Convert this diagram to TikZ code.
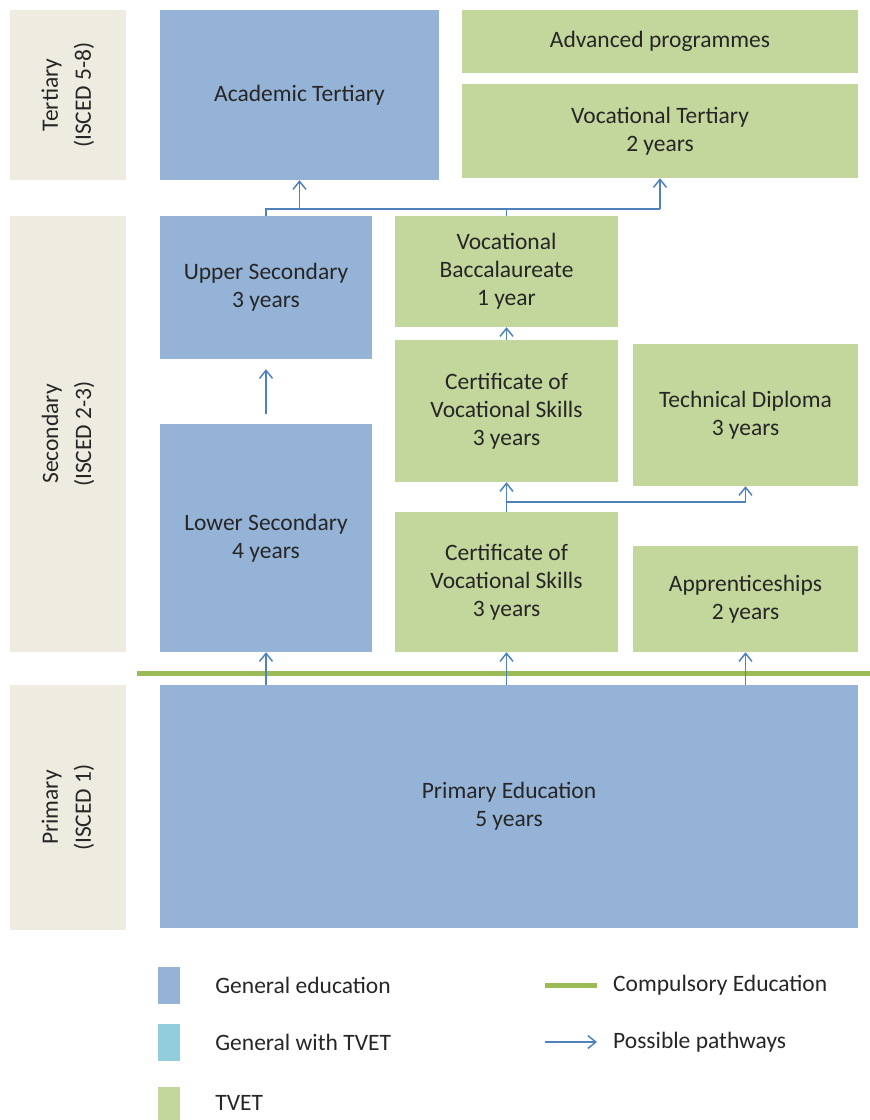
\documentclass[tikz,border=0pt]{standalone}
\usepackage{fontspec}
\setmainfont{Carlito}
\usepackage{tikz}
\usetikzlibrary{positioning}
\usetikzlibrary{arrows.meta, calc}
\definecolor{colGeneral}{HTML}{95B3D7}
\definecolor{colMixed}{HTML}{92CDDC}
\definecolor{colTvet}{HTML}{C3D69B}
\definecolor{colLevel}{HTML}{EEECE1}
\definecolor{strokeCompulsory}{HTML}{9BBB59}
\definecolor{strokePath}{HTML}{4F81BD}
\definecolor{colText}{HTML}{262626}

\begin{document}
\begin{tikzpicture}[
				x=1pt, y=-1pt,
				font=\fontsize{23.5}{28}\selectfont,
				% Node Styles
				base/.style={rectangle, align=center, inner sep=0pt, text=colText},
				general/.style={base, fill=colGeneral},
				tvet/.style={base, fill=colTvet},
				level/.style={base, fill=colLevel, minimum width=116pt},
				levellabel/.style={base, rotate=90, font=\fontsize{23.5}{33}\selectfont},
				key/.style={base, minimum width=22pt, minimum height=37pt},
				keytext/.style={base, anchor=west},
				pathway/.style={-{Straight Barb[length=8pt, width=13pt]}, line width=1.5pt, strokePath},
				link/.style={line width=1.5pt, strokePath},
				compulsory/.style={line width=5pt, strokeCompulsory}
				]
				\useasboundingbox (0,0) rectangle (870,1120);
				
				%% ================= LEVEL BANDS =================
				\node[level, minimum height=170pt] (tertiary) at (68,95) {};
				\node[levellabel] at (tertiary) {Tertiary\\(ISCED 5-8)};
				\node[level, minimum height=436pt] (secondary) at (68,434) {};
				\node[levellabel] at (secondary) {Secondary\\(ISCED 2-3)};
				\node[level, minimum height=245pt] (primarylevel) at (68,807.5) {};
				\node[levellabel] at (primarylevel) {Primary\\(ISCED 1)};
				
				%% ================= TERTIARY =================
				\node[general, minimum width=279pt, minimum height=170pt] (acad) at (299.5,95) {Academic Tertiary};
				\node[tvet, minimum width=396pt, minimum height=63pt] (advanced) at (660,41.5) {Advanced programmes};
				\node[tvet, minimum width=396pt, minimum height=94pt] (voctert) at (660,131) {Vocational Tertiary\\2 years};
				
				%% ================= SECONDARY =================
				\node[general, minimum width=212pt, minimum height=143pt] (upper) at (266,287.5) {Upper Secondary\\3 years};
				\node[tvet, minimum width=223pt, minimum height=111pt] (bacc) at (506.5,271.5) {Vocational\\Baccalaureate\\1 year};
				\node[tvet, minimum width=223pt, minimum height=142pt] (cvsupper) at (506.5,411) {Certificate of\\Vocational Skills\\3 years};
				\node[tvet, minimum width=225pt, minimum height=142pt] (techdip) at (745.5,415) {Technical Diploma\\3 years};
				\node[general, minimum width=212pt, minimum height=228pt] (lower) at (266,538) {Lower Secondary\\4 years};
				\node[tvet, minimum width=223pt, minimum height=140pt] (cvslower) at (506.5,582) {Certificate of\\Vocational Skills\\3 years};
				\node[tvet, minimum width=225pt, minimum height=106pt] (appr) at (745.5,599) {Apprenticeships\\2 years};
				
				%% ================= PRIMARY =================
				\node[general, minimum width=698pt, minimum height=243pt] (primary) at (509,806.5) {Primary Education\\5 years};
				
				% Compulsory line
				\coordinate (compstart) at (137,673);
				\coordinate (compend) at (870,673);
				\draw[compulsory] (compstart) -- (compend);
				
				%% ================= PATHWAYS =================
				\coordinate (bustop) at (0,209);
				\coordinate (busmid) at (0,502);
				
				% Secondary to tertiary
				\draw[link] (upper.north) -- (upper.north |- bustop) -- (voctert.south |- bustop);
				\draw[link] (bacc.north) -- (bacc.north |- bustop);
				\draw[pathway] (acad.south |- bustop) -- (acad.south);
				\draw[pathway] (voctert.south |- bustop) -- (voctert.south);
				
				% Within secondary
				\draw[pathway] (cvsupper.north) -- (bacc.south);
				\draw[pathway, shorten <=10pt, shorten >=10pt] (lower.north) -- (upper.south);
				\draw[link] (cvslower.north) -- (cvslower.north |- busmid) -- (techdip.south |- busmid);
				\draw[pathway] (cvslower.north |- busmid) -- (cvsupper.south);
				\draw[pathway] (techdip.south |- busmid) -- (techdip.south);
				
				% Primary to secondary
				\draw[pathway] (primary.north -| lower) -- (lower.south);
				\draw[pathway] (primary.north -| cvslower) -- (cvslower.south);
				\draw[pathway] (primary.north -| appr) -- (appr.south);
				
				%% ================= LEGEND =================
				\node[key, general] (keygeneral) at (169,985.5) {};
				\node[keytext, right=35pt of keygeneral] (txtgeneral) {General education};
				\node[key, fill=colMixed] (keymixed) at (169,1042) {};
				\node[keytext, right=35pt of keymixed] (txtmixed) {General with TVET};
				\node[key, tvet] (keytvet) at (169,1105.5) {};
				\node[keytext, right=35pt of keytvet, yshift=3pt] (txttvet) {TVET};
				
				\coordinate (keycompa) at (545,985);
				\coordinate (keycompb) at (597,985);
				\draw[compulsory] (keycompa) -- (keycompb);
				\node[keytext, right=16pt of keycompb] (txtcomp) {Compulsory Education};
				\coordinate (keypatha) at (545,1042);
				\coordinate (keypathb) at (597,1042);
				\draw[pathway] (keypatha) -- (keypathb);
				\node[keytext, right=16pt of keypathb] (txtpath) {Possible pathways};
				
			\end{tikzpicture}
\end{document}
